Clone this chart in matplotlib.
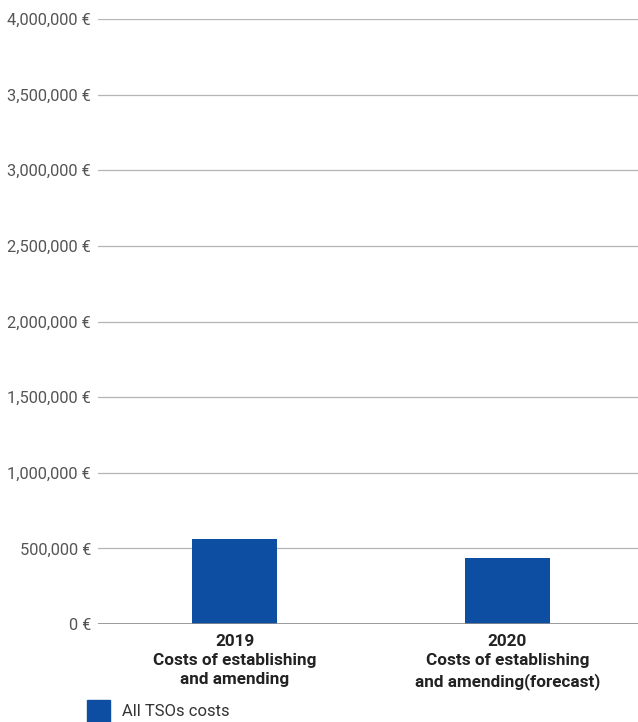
import matplotlib
matplotlib.use('Agg')
import matplotlib.pyplot as plt
from matplotlib.patches import Rectangle
from matplotlib.ticker import FuncFormatter

categories = ['2019\nCosts of establishing\nand amending',
              '2020\nCosts of establishing\nand amending(forecast)']
tso_costs = [561000, 436000]
series_name = 'All TSOs costs'
y_ticks = [0, 500000, 1000000, 1500000, 2000000, 2500000, 3000000, 3500000, 4000000]

bar_color = '#0D4EA2'

plt.rcParams['font.family'] = ['Roboto', 'DejaVu Sans']

fig = plt.figure(figsize=(6.38, 7.22), dpi=100)
# plot area runs a little past the right edge of the canvas
ax = fig.add_axes([98 / 638, 1 - 624 / 722, 546 / 638, 605 / 722])

x = [0, 1]
ax.bar(x, tso_costs, width=0.31, color=bar_color, zorder=3)
ax.set_xlim(-0.5, 1.5)
ax.set_ylim(0, 4000000)

ax.set_yticks(y_ticks)
ax.yaxis.set_major_formatter(FuncFormatter(lambda v, p: '{:,.0f} €'.format(v)))
ax.grid(axis='y', color='#b5b5b5', linewidth=0.9, zorder=0)
ax.axhline(0, color='#8c8c8c', linewidth=1.2, zorder=4)
ax.tick_params(axis='y', length=0, pad=5, labelsize=11.8, labelcolor='#555555')

ax.set_xticks(x)
ax.set_xticklabels(categories, fontsize=12.3, fontweight='bold', color='#222222',
                   linespacing=1.36)
ax.tick_params(axis='x', length=0, pad=7)

for s in ax.spines.values():
    s.set_visible(False)

# legend entry under the axis
fig.patches.append(Rectangle((87 / 638, 0), 23 / 638, 22 / 722,
                             transform=fig.transFigure, color=bar_color))
fig.text(122 / 638, 1 - 711 / 722, series_name, fontsize=12, color='#333333', va='center')

fig.savefig('out.png', dpi=100)
